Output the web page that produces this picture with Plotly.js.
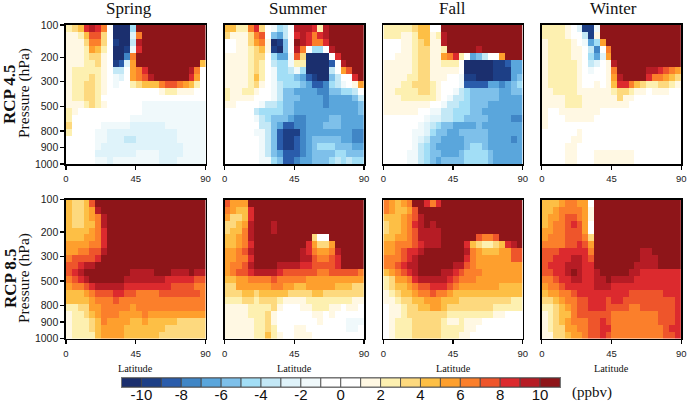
<!DOCTYPE html>
<html><head><meta charset="utf-8">
<script src="https://cdn.plot.ly/plotly-3.0.1.min.js"></script>
<style>html,body{margin:0;padding:0;background:#fff}#c{width:687px;height:403px}</style>
</head><body><div id="c"></div>
<script>
const seasons = ["Spring","Summer","Fall","Winter"];
const scenarios = ["RCP 4.5","RCP 8.5"];
const pressureTicks = ["100","200","300","500","800","900","1000"];
const pressureTickRows = [0,4.65,8.15,11.7,15.25,17.6,20];
const latTicks = [0,45,90];
const colorLevels = [-11,-10,-9,-8,-7,-6,-5,-4,-3,-2,-1,0,1,2,3,4,5,6,7,8,9,10];
const levelColors = ["#1b2f6e","#1d3f86","#2a5cab","#4086c6","#5aa6dc","#7ec0ea","#a2def6","#c3e8f6","#dff3fa","#f0f9fb","#ffffff","#ffffff","#fff8e3","#fdf0b0","#fdd97e","#fdbf45","#fe9f2d","#fb7f2b","#ee552b","#dc2a2e","#b61c25","#8e1519"];
const colorTicks = [-10,-8,-6,-4,-2,0,2,4,6,8,10];

// each value: lower edge of the 1 ppbv colour bin, 24 latitude bands by 20 pressure rows
const sp45 = [
[2,3,4,8,9,8,6,-1,-11,-11,-11,-5,10,10,10,10,10,10,10,10,10,10,10,10],
[1,1,2,4,7,7,3,0,-11,-11,-11,-3,6,10,10,10,10,10,10,10,10,10,10,10],
[1,1,1,3,6,6,3,0,-10,-11,-11,-4,9,10,10,10,10,10,10,10,10,10,10,10],
[1,1,1,2,5,4,2,0,-11,-11,-10,-2,8,10,10,10,10,10,10,10,10,10,10,10],
[1,1,1,2,3,3,1,0,-11,-11,-8,6,10,10,10,10,10,10,10,10,10,10,10,10],
[1,1,1,2,2,3,1,0,-10,-9,-3,5,10,10,10,10,10,10,10,10,10,10,10,4],
[1,2,2,2,2,2,1,0,-4,-4,-1,5,6,8,10,10,10,10,10,10,10,9,6,-1],
[1,2,2,2,3,2,1,0,-2,-3,0,5,6,7,9,10,10,10,10,10,10,8,5,-1],
[1,2,2,3,3,2,1,0,-2,-1,0,2,3,4,4,4,6,7,7,6,5,4,2,-1],
[1,2,2,3,3,2,1,0,0,-1,0,0,0,0,0,0,1,2,2,1,1,1,0,0],
[1,2,2,3,3,2,0,0,0,0,0,0,0,0,0,0,0,0,0,0,0,0,0,0],
[1,1,1,2,3,2,1,0,0,0,0,0,0,-2,-2,-2,-2,-2,-2,-2,-2,-2,-2,-2],
[2,1,0,0,0,0,0,0,0,0,0,0,0,-2,-2,-2,-2,-2,-2,-2,-2,-2,-2,-2],
[2,0,0,0,0,0,0,-1,0,0,0,-2,-2,-2,-2,-2,-2,-2,-2,-2,-2,-2,-2,-2],
[3,0,0,0,0,0,-2,-2,-2,-2,-2,-3,-3,-3,-3,-3,-3,-2,-2,-2,-2,-2,-2,-2],
[2,0,0,0,0,-2,-2,-3,-3,-3,-3,-3,-3,-3,-3,-3,-3,-3,-3,-2,-2,-2,-2,-2],
[0,0,0,0,0,-2,-2,-3,-3,-3,-4,-4,-3,-3,-3,-3,-3,-3,-3,-2,-2,-2,-2,-2],
[0,0,0,0,0,-2,-3,-3,-3,-3,-3,-3,-3,-3,-3,-3,-3,-3,-3,-3,-2,-2,-2,-2],
[0,0,0,0,0,-3,-3,-3,-3,-3,-3,-3,-2,-2,-2,-2,-3,-3,-3,-3,-2,-2,-2,-2],
[0,0,0,0,0,-2,-2,-3,-2,-2,-2,-2,-2,-2,-2,-2,-3,-3,-3,-2,-2,-2,-2,-2]
];
const su45 = [
[4,4,2,2,6,8,3,-1,-2,-5,-4,0,9,9,9,8,2,9,10,10,10,10,10,10],
[3,1,1,1,3,6,7,0,-6,-7,-4,0,8,9,8,6,8,9,10,10,10,10,10,10],
[0,0,1,1,3,5,6,1,-11,-10,-6,0,10,9,8,6,6,8,10,10,10,10,10,10],
[0,0,1,1,2,3,4,1,-10,-11,-6,-1,9,6,-1,-5,-5,-1,9,10,10,10,10,10],
[1,1,1,1,2,3,3,0,-5,-7,-7,-2,7,3,-11,-11,-11,-11,-1,8,10,10,10,10],
[1,1,1,1,2,3,2,0,-4,-5,-5,-2,2,2,-11,-11,-11,-11,-9,0,9,10,10,10],
[1,1,1,1,2,3,2,0,-2,-5,-5,-4,-2,-5,-11,-11,-11,-11,-4,0,5,7,10,10],
[1,1,1,1,2,4,2,0,-2,-5,-5,-5,-6,-7,-9,-10,-11,-11,-6,-4,-1,-1,8,10],
[1,1,1,1,2,3,1,0,-2,-4,-5,-5,-5,-6,-7,-9,-9,-8,-5,-4,-2,-1,1,5],
[2,1,1,2,2,1,0,-1,-2,-4,-6,-6,-7,-7,-7,-7,-8,-8,-6,-6,-5,-5,-4,-1],
[2,1,1,1,1,0,0,0,-2,-4,-6,-6,-6,-7,-7,-7,-7,-8,-7,-7,-7,-7,-6,-4],
[1,1,0,0,0,0,-2,-4,-4,-5,-6,-6,-7,-7,-7,-7,-7,-8,-7,-7,-7,-7,-7,-6],
[0,0,0,0,0,-4,-5,-5,-5,-5,-6,-6,-7,-7,-7,-7,-7,-7,-7,-7,-7,-7,-7,-6],
[0,0,0,0,0,-2,-4,-5,-6,-6,-6,-7,-8,-8,-7,-7,-7,-7,-6,-6,-7,-7,-7,-7],
[0,0,0,0,0,-1,-4,-4,-6,-7,-9,-9,-8,-8,-7,-7,-7,-6,-6,-6,-7,-7,-7,-7],
[0,0,0,0,0,-2,-2,-4,-6,-9,-10,-10,-10,-8,-7,-7,-7,-7,-7,-7,-7,-7,-8,-8],
[0,0,0,0,0,-1,-2,-4,-6,-9,-10,-10,-9,-8,-7,-6,-6,-6,-6,-6,-7,-7,-8,-8],
[0,0,0,0,0,-1,-2,-4,-6,-9,-10,-10,-9,-8,-7,-6,-5,-5,-5,-6,-6,-6,-7,-7],
[0,0,0,0,0,-1,-2,-4,-6,-7,-9,-9,-9,-8,-7,-6,-6,-6,-6,-5,-5,-6,-6,-6],
[0,0,0,0,0,-1,-2,-2,-5,-6,-9,-9,-8,-7,-7,-6,-6,-6,-5,-4,-5,-4,-5,-5]
];
const fa45 = [
[2,2,2,2,2,3,4,4,0,-1,10,10,10,10,10,10,10,10,10,10,10,10,10,10],
[2,2,2,1,1,2,4,4,1,2,9,10,10,10,10,10,10,10,10,10,10,10,10,10],
[0,0,0,1,1,2,3,4,1,1,9,10,10,10,10,10,10,10,10,10,10,10,10,10],
[0,0,0,1,1,2,3,3,1,1,2,10,10,10,10,10,9,10,10,10,10,10,10,10],
[0,0,1,1,1,2,3,3,1,1,5,6,8,2,0,-7,-6,-4,-1,-1,5,10,10,10],
[1,1,1,1,1,2,3,3,1,1,2,2,2,0,-11,-11,-11,-11,-11,-10,-10,-9,-7,-7],
[1,1,1,1,1,2,3,3,1,1,1,1,1,0,-11,-11,-11,-11,-11,-10,-10,-10,-7,-7],
[1,1,1,1,2,2,3,3,1,1,1,0,-1,-2,-10,-10,-11,-11,-11,-10,-10,-10,-7,-6],
[1,1,1,2,2,3,3,3,2,1,0,0,-1,-2,-9,-9,-9,-9,-7,-7,-8,-7,-6,-5],
[1,1,2,2,2,2,3,3,2,1,0,0,-2,-4,-5,-6,-6,-6,-6,-6,-7,-7,-6,-6],
[1,1,1,2,2,2,2,2,2,1,0,-2,-4,-4,-5,-6,-6,-6,-6,-6,-7,-7,-7,-7],
[1,1,1,1,1,1,1,1,0,0,-2,-4,-4,-5,-5,-6,-6,-6,-7,-7,-7,-7,-7,-7],
[1,1,1,1,1,1,0,0,-2,-2,-4,-4,-5,-5,-5,-6,-6,-7,-7,-7,-7,-7,-7,-7],
[0,0,0,0,0,0,0,-2,-3,-3,-4,-4,-5,-5,-6,-6,-6,-6,-7,-7,-7,-7,-8,-8],
[0,0,0,0,0,-1,-2,-3,-4,-5,-6,-6,-7,-7,-7,-7,-6,-7,-7,-7,-7,-7,-7,-7],
[0,0,0,0,0,-2,-2,-3,-5,-6,-6,-7,-7,-6,-6,-6,-6,-6,-7,-7,-7,-7,-7,-7],
[0,0,0,0,-1,-2,-3,-4,-6,-6,-7,-7,-7,-7,-6,-6,-6,-6,-7,-7,-7,-7,-8,-7],
[0,0,0,0,-1,-2,-4,-5,-6,-7,-7,-7,-7,-7,-6,-5,-5,-6,-7,-7,-7,-7,-7,-7],
[0,0,0,0,-2,-2,-4,-5,-6,-6,-7,-7,-7,-6,-5,-5,-5,-5,-6,-7,-7,-7,-7,-7],
[0,0,0,0,-2,-2,-4,-5,-6,-7,-6,-6,-6,-6,-5,-5,-5,-5,-6,-7,-7,-7,-7,-7]
];
const wi45 = [
[2,2,2,2,1,0,-3,-10,-10,-2,10,10,10,10,10,10,10,10,10,10,10,10,10,10],
[2,2,2,2,1,0,-1,-4,-10,1,10,10,10,10,10,10,10,10,10,10,10,10,10,10],
[1,2,2,2,2,1,0,-2,-7,-5,5,10,10,10,10,10,10,10,10,10,10,10,10,10],
[1,2,2,2,2,1,1,0,-4,-8,-1,6,10,10,10,10,10,10,10,10,10,10,10,10],
[1,2,2,2,2,1,1,0,-5,-7,-3,5,10,10,10,10,10,10,10,10,10,10,10,10],
[1,2,2,2,2,2,1,0,-4,-3,-1,1,9,10,10,10,10,10,10,10,10,10,10,10],
[1,2,2,2,2,2,1,0,-2,-1,0,1,6,10,10,10,10,10,9,9,8,7,6,5],
[1,2,2,2,2,2,1,0,0,0,0,1,5,9,10,10,10,10,8,6,6,5,4,3],
[1,2,2,2,2,2,1,0,0,1,0,1,4,8,8,6,4,3,2,2,3,3,2,1],
[1,1,2,2,2,2,1,1,1,1,1,1,2,3,3,2,1,1,0,1,1,1,0,0],
[1,1,1,1,2,2,2,1,1,1,1,1,1,3,1,1,0,0,0,0,0,0,0,0],
[1,1,1,1,2,2,2,1,1,1,1,1,1,1,1,0,0,0,0,0,0,0,0,0],
[1,0,0,1,1,1,1,1,1,1,0,0,0,0,0,0,0,0,0,0,0,0,0,0],
[1,0,0,0,1,1,1,1,1,0,0,0,0,0,0,0,0,0,0,0,0,0,0,0],
[1,0,0,0,0,0,0,0,0,0,0,0,0,0,0,0,0,0,0,0,0,0,0,0],
[0,0,0,0,0,0,1,0,0,0,0,0,0,0,0,0,0,0,0,0,0,0,0,0],
[0,0,0,0,0,1,1,0,0,0,0,0,0,0,0,0,0,0,0,0,0,0,0,0],
[0,0,0,0,1,1,0,0,0,0,0,0,0,0,0,0,0,0,0,0,0,0,0,0],
[0,0,0,0,1,1,0,0,0,1,1,1,1,1,1,1,0,0,0,0,0,0,0,0],
[0,0,0,0,1,1,0,0,0,1,1,1,1,1,1,1,0,0,0,0,0,0,0,0]
];
const sp85 = [
[4,3,3,4,7,10,10,10,10,10,10,10,10,10,10,10,10,10,10,10,10,10,10,10],
[4,3,3,4,5,9,10,10,10,10,10,10,10,10,10,10,10,10,10,10,10,10,10,10],
[4,3,3,4,5,6,9,10,10,10,10,10,10,10,10,10,10,10,10,10,10,10,10,10],
[4,3,3,4,4,6,9,10,10,10,10,10,10,10,10,10,10,10,10,10,10,10,10,10],
[4,4,4,4,5,6,8,10,10,10,10,10,10,10,10,10,10,10,10,10,10,10,10,10],
[4,4,4,5,5,6,8,10,10,10,10,10,10,10,10,10,10,10,10,10,10,10,10,10],
[5,5,5,5,6,6,8,10,10,10,10,10,10,10,10,10,10,10,10,10,10,10,10,10],
[5,5,6,6,7,7,9,10,10,10,10,10,10,10,10,10,10,10,10,10,10,10,10,10],
[6,7,7,7,7,8,10,10,10,10,10,10,10,10,10,10,10,10,10,10,10,10,10,10],
[7,7,8,9,9,10,10,10,10,10,10,10,10,10,10,10,10,10,10,10,10,10,10,10],
[7,8,9,10,10,10,10,10,10,10,10,9,9,9,9,10,10,10,9,9,9,10,9,9],
[6,7,8,9,10,10,10,10,10,10,9,9,9,9,9,9,9,8,8,8,8,8,7,7],
[5,6,6,7,8,9,9,9,9,9,8,8,8,8,8,8,8,8,7,7,7,7,6,6],
[4,4,4,5,6,7,7,7,8,8,7,7,6,6,6,6,7,7,7,7,7,7,7,6],
[4,4,4,4,5,6,6,6,7,6,6,6,6,6,6,6,6,6,6,6,6,6,6,6],
[2,2,3,3,5,5,6,6,6,6,6,5,6,6,6,6,6,6,6,6,6,6,6,6],
[1,2,2,3,4,5,6,6,6,5,5,5,5,6,5,5,5,5,5,5,5,5,5,5],
[1,2,2,2,3,4,6,5,5,5,5,4,4,5,4,4,4,4,4,3,3,3,3,3],
[1,2,2,2,3,4,5,5,5,5,4,4,4,4,4,4,4,3,3,3,3,3,3,3],
[1,2,2,2,2,4,5,5,5,5,4,4,4,4,4,4,3,3,3,3,3,3,3,3]
];
const su85 = [
[7,5,5,5,10,10,10,10,10,10,10,10,10,10,10,10,10,10,10,10,10,10,10,10],
[6,5,4,4,8,10,10,10,10,10,10,10,10,10,10,10,10,10,10,10,10,10,10,10],
[5,3,3,4,8,10,10,10,10,10,10,10,10,10,10,10,10,10,10,10,10,10,10,10],
[3,3,4,5,9,10,10,10,9,10,10,10,10,10,10,10,10,10,10,10,10,10,10,10],
[3,4,4,6,9,10,10,10,9,10,10,10,10,10,10,10,10,10,10,10,10,10,10,10],
[4,4,5,6,9,10,10,10,10,10,10,10,10,10,10,3,0,0,10,10,10,10,10,10],
[4,4,5,6,8,10,10,10,10,10,10,10,10,10,8,5,3,3,5,10,10,10,10,10],
[5,5,6,7,9,10,10,10,10,10,10,10,10,9,8,6,5,5,6,9,10,10,10,10],
[5,5,6,6,8,10,10,10,10,10,10,10,10,9,9,7,6,6,7,8,10,10,10,10],
[5,6,6,7,9,10,10,10,10,9,9,9,9,8,8,7,7,7,7,8,10,10,10,10],
[5,6,7,7,8,9,9,9,9,8,7,7,7,7,7,7,6,6,7,7,7,7,7,6],
[4,4,5,5,6,6,6,6,7,6,6,6,6,6,5,5,5,5,5,5,5,5,5,5],
[3,3,5,5,5,5,5,5,6,6,5,5,4,4,5,5,5,5,5,4,4,4,3,3],
[3,3,3,4,4,3,4,4,4,4,4,3,3,3,3,4,4,3,3,3,3,3,3,3],
[2,2,2,3,3,2,3,3,3,2,1,1,1,1,2,2,2,2,2,2,2,2,1,1],
[1,1,1,1,2,2,2,2,3,1,0,0,0,1,1,2,2,2,1,1,0,1,1,0],
[1,1,1,1,2,2,2,3,1,0,0,0,0,0,0,1,1,0,1,0,0,0,-1,-1],
[1,1,1,1,1,2,2,3,1,0,0,0,0,0,0,0,1,0,0,0,0,-2,-2,-2],
[1,1,1,1,1,2,2,3,2,0,0,0,1,1,0,0,0,0,0,0,0,-2,-2,-1],
[1,1,1,1,1,2,2,4,2,1,0,0,1,1,1,0,0,0,0,0,0,0,0,0]
];
const fa85 = [
[6,5,4,5,6,10,10,8,6,8,10,10,10,10,10,10,10,10,10,10,10,10,10,10],
[6,5,4,4,5,7,10,10,10,10,10,10,10,10,10,10,10,10,10,10,10,10,10,10],
[4,4,4,5,6,7,9,10,10,10,10,10,10,10,10,10,10,10,10,10,10,10,10,10],
[3,4,4,5,6,8,9,10,9,10,10,10,10,10,10,10,10,10,10,10,10,10,10,10],
[3,4,4,5,6,7,9,9,9,9,10,10,10,10,10,10,10,10,10,10,10,10,10,10],
[4,4,5,5,6,7,9,9,9,9,10,10,10,10,10,10,7,6,6,7,10,10,10,10],
[5,5,6,6,6,7,8,9,9,9,10,10,10,10,8,4,3,2,2,3,4,8,9,10],
[5,5,6,7,8,8,9,10,10,10,10,10,10,10,9,6,5,4,4,4,5,5,7,7],
[6,6,6,7,8,9,10,10,10,10,10,10,10,10,8,6,5,5,5,5,5,5,7,7],
[6,6,7,8,9,9,10,10,10,10,10,10,9,9,7,6,5,5,5,5,5,5,5,5],
[4,5,6,7,8,9,10,10,10,10,9,9,8,7,6,6,6,5,5,5,5,5,5,5],
[2,3,5,5,6,8,9,9,9,9,9,8,7,6,6,6,5,5,5,5,5,5,5,5],
[2,3,4,4,5,6,7,7,8,8,8,7,6,5,5,5,5,5,5,5,4,4,4,4],
[1,2,3,4,4,5,6,6,7,6,6,5,4,4,4,4,4,4,4,4,4,4,4,4],
[1,1,2,3,3,4,4,5,5,5,4,4,4,3,3,3,3,3,3,3,3,3,2,2],
[0,1,1,2,3,3,4,4,5,5,4,3,3,3,3,3,3,3,3,2,2,2,2,2],
[0,1,1,2,3,3,3,3,3,3,3,2,2,2,2,2,2,2,2,1,1,0,0,0],
[0,1,2,2,2,3,3,3,3,3,2,1,1,2,1,1,1,0,0,0,0,0,0,0],
[0,1,2,2,2,3,3,3,3,3,2,2,2,2,1,1,0,0,0,0,0,0,0,0],
[0,1,2,2,2,3,3,3,3,3,2,2,2,1,1,0,0,0,0,0,0,0,0,0]
];
const wi85 = [
[4,4,4,5,6,6,5,5,0,10,10,10,10,10,10,10,10,10,10,10,10,10,10,10],
[4,4,5,6,6,6,6,5,1,10,10,10,10,10,10,10,10,10,10,10,10,10,10,10],
[4,5,5,6,7,7,6,5,1,10,10,10,10,10,10,10,10,10,10,10,10,10,10,10],
[4,5,6,6,7,8,7,5,0,10,10,10,10,10,10,10,10,10,10,10,10,10,10,10],
[5,5,6,6,7,7,7,5,0,10,10,10,10,10,10,10,10,10,10,10,10,10,10,10],
[5,6,6,6,7,7,7,6,3,10,10,10,10,10,10,10,10,10,10,10,10,10,10,10],
[6,6,6,6,7,7,8,7,5,10,10,10,10,10,10,10,10,10,10,10,10,10,10,10],
[7,7,7,8,8,8,8,8,6,10,10,10,10,10,10,10,10,9,9,10,10,10,10,10],
[7,7,8,8,8,9,9,8,7,10,10,10,10,10,10,10,10,9,9,9,10,10,10,10],
[7,8,8,8,9,9,9,8,8,10,10,10,10,10,10,10,9,9,9,9,10,10,10,10],
[7,7,8,8,9,10,9,8,8,9,10,10,10,10,10,9,9,8,8,8,8,8,8,8],
[6,6,7,8,8,9,9,8,8,9,9,10,9,9,9,9,8,8,8,8,8,8,8,8],
[5,6,6,7,8,8,8,8,8,9,9,9,8,8,8,8,8,8,8,8,8,8,8,8],
[4,5,5,6,6,7,8,8,8,8,8,8,8,8,8,7,7,7,7,7,7,8,8,8],
[3,3,4,5,6,6,7,7,8,8,8,7,8,8,7,7,7,7,7,7,7,7,7,8],
[2,2,3,4,5,6,7,7,8,8,8,7,7,7,7,6,6,7,7,7,7,7,7,8],
[1,2,3,4,4,6,7,7,7,7,7,7,6,6,6,6,6,6,6,6,7,7,7,8],
[1,2,3,4,5,6,6,6,7,7,8,7,6,6,6,6,6,6,6,6,7,7,7,8],
[1,2,3,3,5,5,6,6,7,7,8,8,6,6,6,6,6,6,6,6,6,7,8,8],
[1,1,3,3,4,5,5,6,7,7,8,7,6,6,6,6,6,6,6,6,6,7,7,8]
];
const panels = [sp45,su45,fa45,wi45,sp85,su85,fa85,wi85];

const W = 687, H = 403;
const colX = [[66,205.5],[224.7,364],[383.4,522.7],[541.8,681.2]];
const rowY = [[25,164],[199.7,338.7]];
const titleX = [128.7,298,452,613];
const cs = [];
levelColors.forEach((c,i)=>{cs.push([i/22,c]);cs.push([(i+1)/22,c]);});
const cols = 24, rows = 20;
const lats = Array.from({length:cols},(_,j)=>(j+0.5)*90/cols);
const rowIdx = Array.from({length:rows},(_,i)=>i+0.5);
const serif = "'Liberation Serif','Times New Roman',serif";
const sans = "'Liberation Sans',Arial,sans-serif";

const traces = [], layout = {
  width:W,height:H,margin:{l:0,r:0,t:0,b:0},paper_bgcolor:"#fff",plot_bgcolor:"#fff",
  showlegend:false,annotations:[],font:{family:sans,color:"#111"}
};
function ann(text,x,y,size,opts){
  layout.annotations.push(Object.assign({text,xref:"paper",yref:"paper",x:x/W,y:1-y/H,xanchor:"center",yanchor:"middle",showarrow:false,font:{family:serif,size,color:"#111"}},opts||{}));
}
panels.forEach((z,k)=>{
  const c = k%4, r = Math.floor(k/4), n = k+1;
  const xa = n===1?"x":"x"+n, ya = n===1?"y":"y"+n;
  traces.push({type:"heatmap",x:lats,y:rowIdx,z:z.map(row=>row.map(v=>v+0.5)),xaxis:xa,yaxis:ya,zmin:-11,zmax:11,colorscale:cs,showscale:false,zsmooth:false,hoverinfo:"skip"});
  layout["xaxis"+(n===1?"":n)] = {domain:[colX[c][0]/W,colX[c][1]/W],anchor:ya,range:[0,90],tickmode:"array",tickvals:latTicks,ticktext:latTicks.map(String),ticks:"outside",ticklen:4,tickwidth:1.2,tickcolor:"#000",ticklabelstandoff:1,showgrid:false,zeroline:false,showline:true,linecolor:"#000",linewidth:1.6,mirror:true,tickfont:{family:sans,size:9.5,color:"#222"}};
  layout["yaxis"+(n===1?"":n)] = {domain:[1-rowY[r][1]/H,1-rowY[r][0]/H],anchor:xa,range:[20,0],tickmode:"array",tickvals:c===0?pressureTickRows:[],ticktext:c===0?pressureTicks:[],ticks:c===0?"outside":"",ticklen:4,tickwidth:1.2,tickcolor:"#000",showgrid:false,zeroline:false,showline:true,linecolor:"#000",linewidth:1.6,mirror:true,showticklabels:c===0,tickfont:{family:sans,size:10.5,color:"#222"}};
  if(r===1){ ann("Latitude",(colX[c][0]+colX[c][1])/2,368,10.3); }
});
seasons.forEach((s,i)=>ann(s,titleX[i],9,17));
ann("<b>"+scenarios[0]+"</b>",10,94,17,{textangle:-90});
ann("<b>"+scenarios[1]+"</b>",10,278,17,{textangle:-90});
ann("Pressure (hPa)",24,93,15.5,{textangle:-90});
ann("Pressure (hPa)",24,278,15.5,{textangle:-90});
ann("(ppbv)",592,392,15);

// colour key
traces.push({type:"bar",x:colorLevels.map(v=>v+0.5),y:colorLevels.map(()=>1),width:1,marker:{color:levelColors,line:{color:"#444",width:0.8}},xaxis:"x9",yaxis:"y9",hoverinfo:"skip"});
layout.xaxis9 = {domain:[121.5/W,560/W],anchor:"y9",range:[-11,11],tickmode:"array",tickvals:colorTicks,ticktext:colorTicks.map(String),ticks:"",ticklabelstandoff:-6,showgrid:false,zeroline:false,showline:true,linecolor:"#777",linewidth:1,mirror:true,tickfont:{family:sans,size:15,color:"#111"}};
layout.yaxis9 = {domain:[1-387/H,1-378/H],anchor:"x9",range:[0,1],showticklabels:false,ticks:"",showgrid:false,zeroline:false,showline:true,linecolor:"#777",linewidth:1,mirror:true};
Plotly.newPlot("c",traces,layout,{displayModeBar:false,staticPlot:true});
</script></body></html>
